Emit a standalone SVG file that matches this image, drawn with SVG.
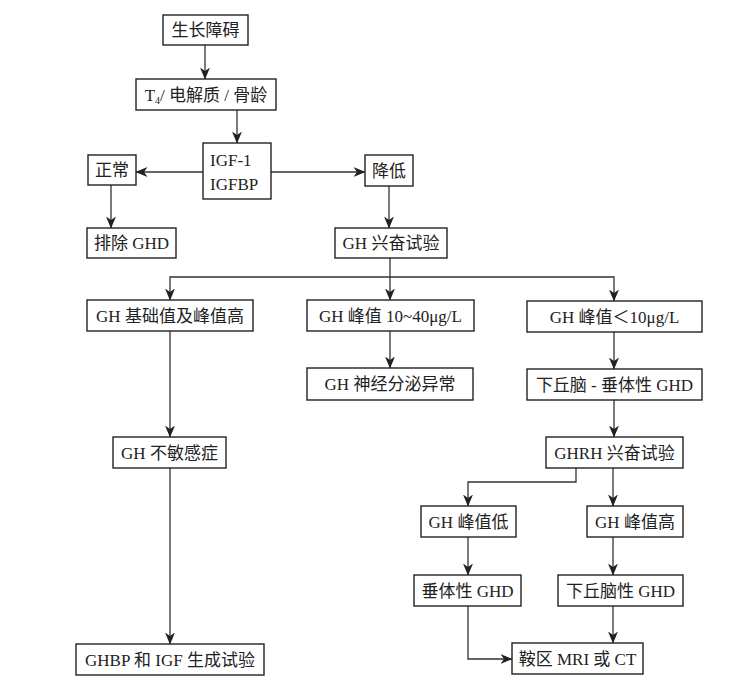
<svg xmlns="http://www.w3.org/2000/svg" width="732" height="691" viewBox="0 0 732 691">
<defs>
<marker id="ah" viewBox="0 0 12 10" refX="11.5" refY="5" markerWidth="12" markerHeight="10" markerUnits="userSpaceOnUse" orient="auto">
<path d="M0,0 L12,5 L0,10 L3.5,5 Z" fill="#222"/>
</marker>
<style>
.b{fill:#fff;stroke:#222;stroke-width:1.4}
.t{font-family:"Liberation Serif","Noto Sans CJK SC",serif;font-size:17px;fill:#222;text-anchor:middle}
.tl{font-family:"Liberation Serif","Noto Sans CJK SC",serif;font-size:17px;fill:#222}
.c{fill:none;stroke:#333;stroke-width:1.3;marker-end:url(#ah)}
.n{fill:none;stroke:#333;stroke-width:1.3}
</style>
</defs>
<rect width="732" height="691" fill="#fff"/>
<g id="connectors">
<path class="c" d="M205,45 V79"/>
<path class="c" d="M237,110 V143"/>
<path class="c" d="M203,172 H136"/>
<path class="c" d="M271,172 H365"/>
<path class="c" d="M111,185 V228"/>
<path class="c" d="M389,186 V228"/>
<path class="c" d="M390,258 V277 H170 V300"/>
<path class="c" d="M390,277 V300"/>
<path class="c" d="M390,277 H614 V301"/>
<path class="c" d="M390,331 V368"/>
<path class="c" d="M614,332 V369"/>
<path class="c" d="M614,400 V437"/>
<path class="c" d="M170,331 V437"/>
<path class="c" d="M170,468 V644"/>
<path class="c" d="M576,468 V482 H468 V506"/>
<path class="c" d="M613,468 V506"/>
<path class="c" d="M468,537 V575"/>
<path class="c" d="M613,537 V575"/>
<path class="c" d="M613,606 V643"/>
<path class="c" d="M468,606 V659 H512"/>
</g>
<g id="n1"><rect class="b" x="163" y="15" width="85" height="30"/><text class="t" x="205.5" y="36">生长障碍</text></g>
<g id="n2"><rect class="b" x="136" y="79" width="140" height="31"/><text class="t" x="206" y="101">T<tspan font-size="10" dy="3">4</tspan><tspan dy="-3">/ 电解质 / 骨龄</tspan></text></g>
<g id="n3"><rect class="b" x="203" y="143" width="68" height="56"/><text class="tl" x="210" y="166">IGF-1</text><text class="tl" x="210" y="190">IGFBP</text></g>
<g id="n4"><rect class="b" x="88" y="155" width="48" height="30"/><text class="t" x="112" y="176">正常</text></g>
<g id="n5"><rect class="b" x="365" y="155" width="48" height="31"/><text class="t" x="389" y="177">降低</text></g>
<g id="n6"><rect class="b" x="87" y="228" width="89" height="30"/><text class="t" x="131.5" y="249">排除 GHD</text></g>
<g id="n7"><rect class="b" x="335" y="228" width="112" height="30"/><text class="t" x="391" y="249">GH 兴奋试验</text></g>
<g id="n8"><rect class="b" x="87" y="300" width="166" height="31"/><text class="t" x="170" y="322">GH 基础值及峰值高</text></g>
<g id="n9"><rect class="b" x="307" y="300" width="167" height="31"/><text class="t" x="390.5" y="322">GH 峰值 10~40μg/L</text></g>
<g id="n10"><rect class="b" x="527" y="301" width="175" height="31"/><text class="t" x="614.5" y="323">GH 峰值＜10μg/L</text></g>
<g id="n11"><rect class="b" x="307" y="368" width="166" height="32"/><text class="t" x="390" y="390">GH 神经分泌异常</text></g>
<g id="n12"><rect class="b" x="527" y="369" width="175" height="31"/><text class="t" x="614.5" y="391">下丘脑 - 垂体性 GHD</text></g>
<g id="n13"><rect class="b" x="113" y="437" width="113" height="31"/><text class="t" x="169.5" y="459">GH 不敏感症</text></g>
<g id="n14"><rect class="b" x="546" y="437" width="137" height="31"/><text class="t" x="614.5" y="459">GHRH 兴奋试验</text></g>
<g id="n15"><rect class="b" x="421" y="506" width="95" height="31"/><text class="t" x="468.5" y="528">GH 峰值低</text></g>
<g id="n16"><rect class="b" x="587" y="506" width="96" height="31"/><text class="t" x="635" y="528">GH 峰值高</text></g>
<g id="n17"><rect class="b" x="414" y="575" width="107" height="31"/><text class="t" x="467.5" y="597">垂体性 GHD</text></g>
<g id="n18"><rect class="b" x="558" y="575" width="125" height="31"/><text class="t" x="620.5" y="597">下丘脑性 GHD</text></g>
<g id="n19"><rect class="b" x="76" y="644" width="188" height="31"/><text class="t" x="170" y="666">GHBP 和 IGF 生成试验</text></g>
<g id="n20"><rect class="b" x="512" y="643" width="131" height="31"/><text class="t" x="577.5" y="665">鞍区 MRI 或 CT</text></g>
</svg>
